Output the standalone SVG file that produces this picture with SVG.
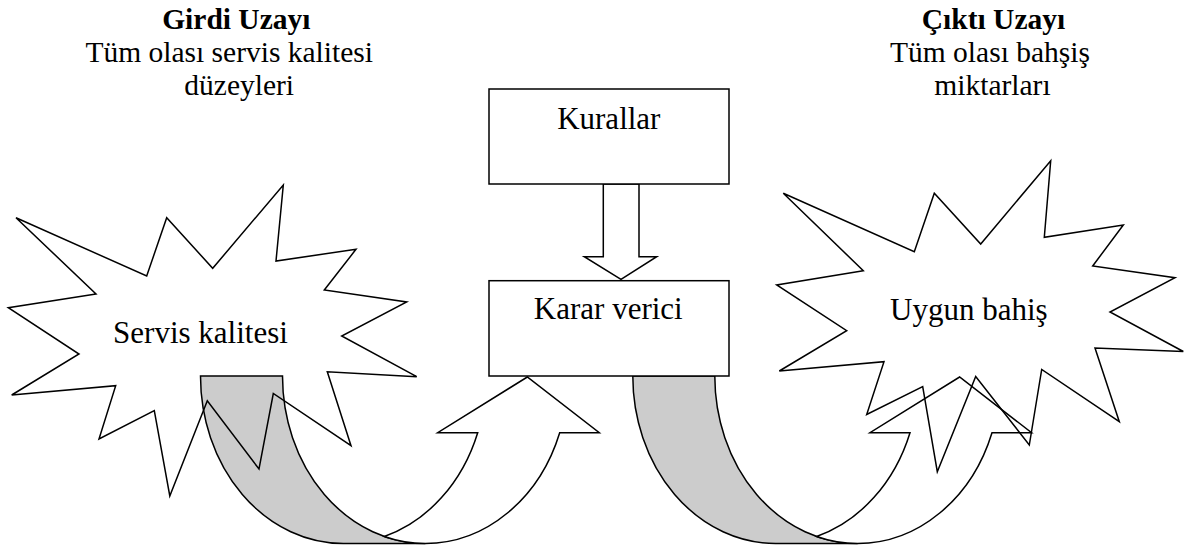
<svg xmlns="http://www.w3.org/2000/svg" width="1184" height="547" viewBox="0 0 1184 547">
<style>
.ln{stroke:#000;stroke-width:1.5;stroke-linejoin:miter}
.back{fill:#cccccc}
.front{fill:#ffffff}
.burst{fill:none}
.box{fill:#ffffff}
.t{font-family:"Liberation Serif","Times New Roman",serif;font-size:31px;fill:#000;text-anchor:middle}
.h{font-size:29.5px}
.b{font-weight:bold}
</style>
<defs>
<g id="curvedArrow">
<path class="ln back" d="M200.5,376 L282.5,376 A142.8,167.5 0 0 0 425.3,543.5 L343.3,543.5 A142.8,167.5 0 0 1 200.5,376 Z"/>
<path class="ln front" d="M384.3,536.45 A142.8,167.5 0 0 0 425.3,543.5 A142.8,167.5 0 0 0 559.7,432.7 L599.3,432.7 L527.3,377 L437.7,432.7 L477.7,432.7 A142.8,167.5 0 0 1 384.3,536.45 Z"/>
</g>
</defs>
<g id="connectors">
<use id="arrow-input-to-decider" href="#curvedArrow"/>
<use id="arrow-decider-to-output" href="#curvedArrow" transform="translate(432.3,0)"/>
<polygon id="arrow-rules-to-decider" class="ln front" points="603.3,184 639,184 639,256.7 656.7,256.7 621,279.3 584.3,256.7 603.3,256.7"/>
</g>
<g id="input-title">
<text class="t h b" x="236.3" y="28.7">Girdi Uzayı</text>
<text class="t h" x="229.2" y="61.7">Tüm olası servis kalitesi</text>
<text class="t h" x="239.2" y="94.7">düzeyleri</text>
</g>
<g id="output-title">
<text class="t h b" x="993.5" y="28.7">Çıktı Uzayı</text>
<text class="t h" x="990" y="61.7">Tüm olası bahşiş</text>
<text class="t h" x="992.5" y="94.7">miktarları</text>
</g>
<g id="servis-kalitesi">
<polygon class="ln burst" points="16,217.7 146.7,276 166.7,217.7 212.7,268.3 283.3,185 276,261 356,249.3 324.3,290 406.7,302 341.7,336 416.7,376.7 327.3,371.7 351,445.7 273.3,393.5 259,469 207.3,400.7 169.8,496 154.3,410.7 99,439 115.7,385.7 11.7,395 79,354 8.3,307.7 96,294"/>
<text class="t" x="200.5" y="343.3">Servis kalitesi</text>
</g>
<g id="uygun-bahis">
<polygon class="ln burst" points="783.3,193.3 914.3,251.7 934.3,193.3 980.7,244 1050.7,160.7 1044.3,237.3 1123.3,225 1092.7,266 1175,277.7 1110,312 1183.3,351.5 1095,348 1119.3,421.7 1041.7,369.5 1029.3,445 975.7,376.5 937.3,471.7 922.7,386.7 866.7,414.5 884,361.7 779.3,371 846.7,330.7 776.7,285 863.3,270.7"/>
<text class="t" x="968.8" y="320">Uygun bahiş</text>
</g>
<g id="kurallar">
<rect class="ln box" x="489" y="89" width="240" height="95"/>
<text class="t" x="608.8" y="129">Kurallar</text>
</g>
<g id="karar-verici">
<rect class="ln box" x="489" y="280.7" width="240" height="95.3"/>
<text class="t" x="608.3" y="319.3">Karar verici</text>
</g>
</svg>
